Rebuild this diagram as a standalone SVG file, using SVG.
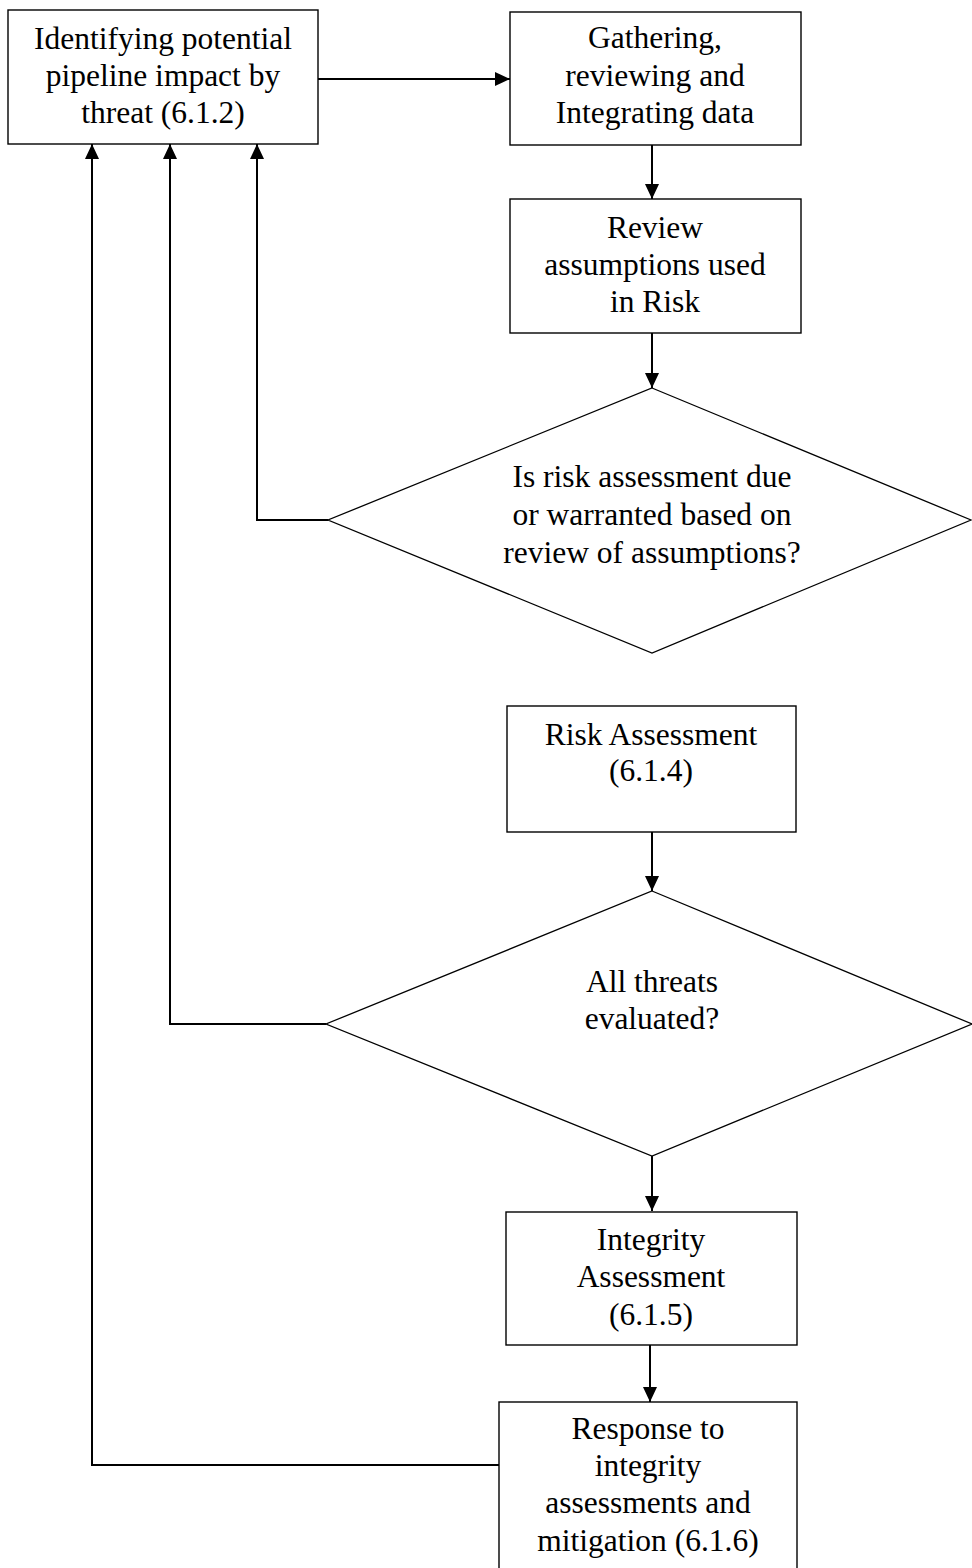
<svg xmlns="http://www.w3.org/2000/svg" width="972" height="1568" viewBox="0 0 972 1568">
<style>
.box{fill:#fff;stroke:#000;stroke-width:1.4}
.dia{fill:#fff;stroke:#000;stroke-width:1.3}
.con{fill:none;stroke:#000;stroke-width:2}
.t{font-family:"Liberation Serif","Times New Roman",serif;font-size:31.5px;fill:#000;text-anchor:middle}
</style>
<defs>
<marker id="ah" viewBox="0 0 15 14" refX="15" refY="7" markerWidth="15" markerHeight="14" orient="auto" markerUnits="userSpaceOnUse">
<path d="M0,0 L15,7 L0,14 z" fill="#000"/>
</marker>
</defs>
<rect width="972" height="1568" fill="#fff"/>
<g id="connectors">
<path class="con" d="M318,79 L510,79" marker-end="url(#ah)"/>
<path class="con" d="M652,145 L652,199" marker-end="url(#ah)"/>
<path class="con" d="M652,333 L652,388" marker-end="url(#ah)"/>
<path class="con" d="M652,832 L652,891" marker-end="url(#ah)"/>
<path class="con" d="M652,1156 L652,1211" marker-end="url(#ah)"/>
<path class="con" d="M650,1345 L650,1402" marker-end="url(#ah)"/>
<path class="con" d="M328,520 L257,520 L257,144" marker-end="url(#ah)"/>
<path class="con" d="M326,1024 L170,1024 L170,144" marker-end="url(#ah)"/>
<path class="con" d="M499,1465 L92,1465 L92,144" marker-end="url(#ah)"/>
</g>
<g id="identify">
<rect class="box" x="8" y="10" width="310" height="134"/>
<text class="t" x="163" y="49">Identifying potential</text>
<text class="t" x="163" y="86">pipeline impact by</text>
<text class="t" x="163" y="123">threat (6.1.2)</text>
</g>
<g id="gather">
<rect class="box" x="510" y="12" width="291" height="133"/>
<text class="t" x="655" y="48">Gathering,</text>
<text class="t" x="655" y="86">reviewing and</text>
<text class="t" x="655" y="123">Integrating data</text>
</g>
<g id="review">
<rect class="box" x="510" y="199" width="291" height="134"/>
<text class="t" x="655" y="238">Review</text>
<text class="t" x="655" y="275">assumptions used</text>
<text class="t" x="655" y="312">in Risk</text>
</g>
<g id="decision1">
<polygon class="dia" points="652,388 971,520 652,653 328,520"/>
<text class="t" x="652" y="487">Is risk assessment due</text>
<text class="t" x="652" y="525">or warranted based on</text>
<text class="t" x="652" y="563">review of assumptions?</text>
</g>
<g id="riskassess">
<rect class="box" x="507" y="706" width="289" height="126"/>
<text class="t" x="651" y="745">Risk Assessment</text>
<text class="t" x="651" y="781">(6.1.4)</text>
</g>
<g id="decision2">
<polygon class="dia" points="652,891 972,1024 652,1156 326,1024"/>
<text class="t" x="652" y="992">All threats</text>
<text class="t" x="652" y="1029">evaluated?</text>
</g>
<g id="integrity">
<rect class="box" x="506" y="1212" width="291" height="133"/>
<text class="t" x="651" y="1250">Integrity</text>
<text class="t" x="651" y="1287">Assessment</text>
<text class="t" x="651" y="1325">(6.1.5)</text>
</g>
<g id="response">
<rect class="box" x="499" y="1402" width="298" height="180"/>
<text class="t" x="648" y="1439">Response to</text>
<text class="t" x="648" y="1476">integrity</text>
<text class="t" x="648" y="1513">assessments and</text>
<text class="t" x="648" y="1551">mitigation (6.1.6)</text>
</g>
</svg>
